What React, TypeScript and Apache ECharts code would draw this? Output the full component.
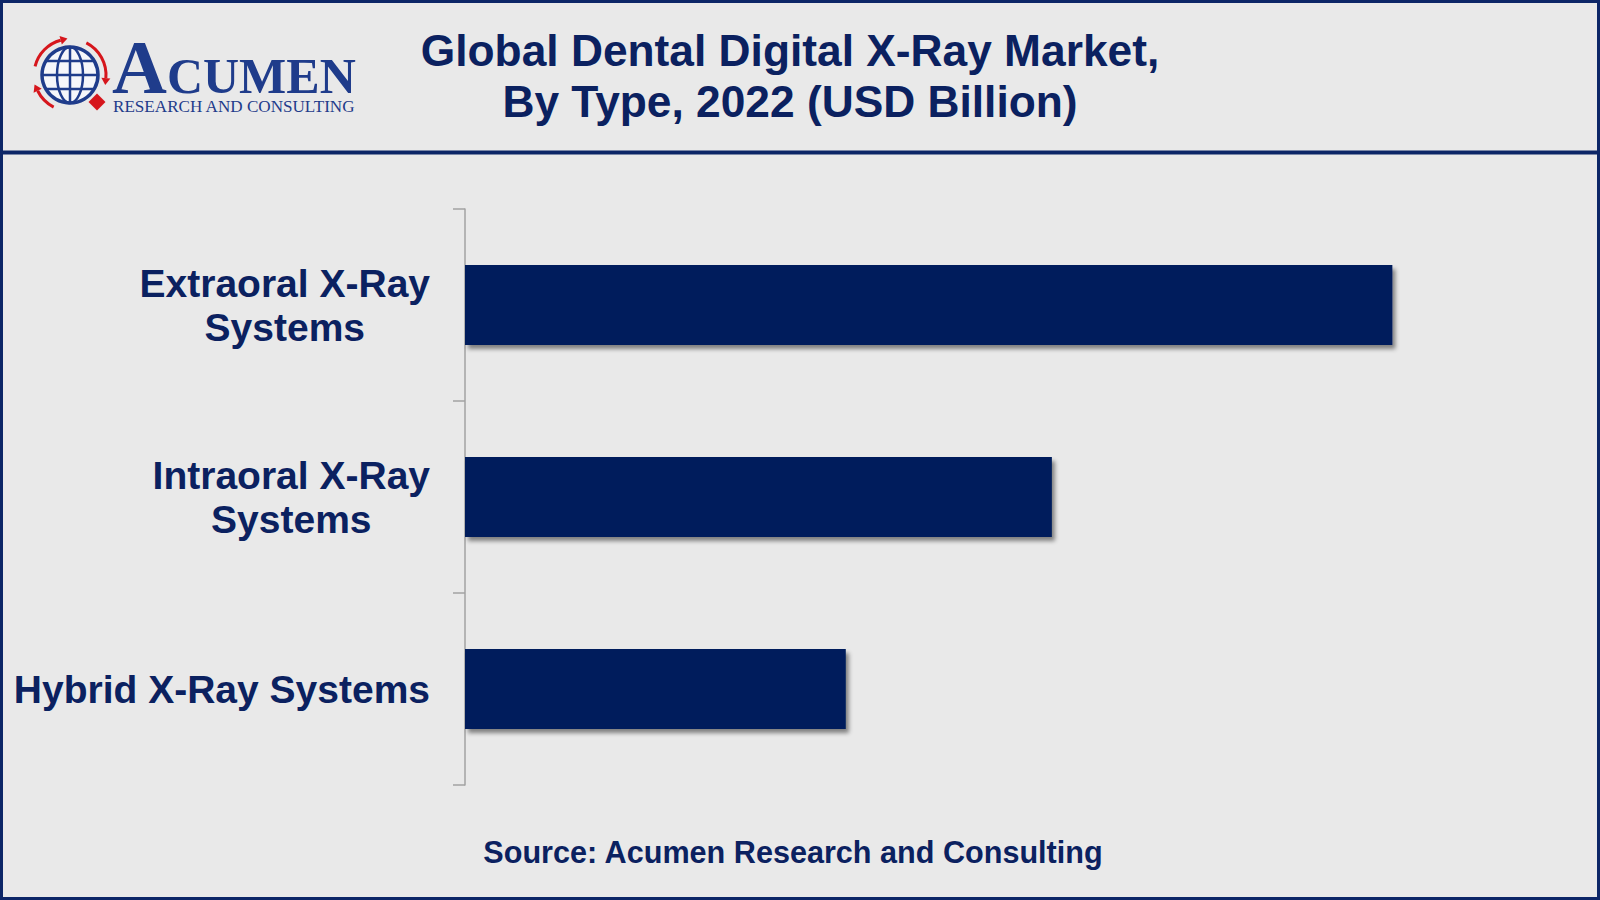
import React, { useEffect, useRef } from "react";
import * as echarts from "echarts";

const categories = ["Extraoral X-Ray\nSystems", "Intraoral X-Ray\nSystems", "Hybrid X-Ray Systems"];
const values = [2.07, 1.31, 0.85];
const valueMax = 2.5;

const titleText = "Global Dental Digital X-Ray Market,\nBy Type, 2022 (USD Billion)";
const sourceText = "Source: Acumen Research and Consulting";

const NAVY = "#0b2160";
const BAR = "#011f5b";
const FRAME = "#0c2667";
const LOGO_BLUE = "#1f3c8b";
const LOGO_RED = "#d6161c";
const SANS = '"Liberation Sans", Arial, Helvetica, sans-serif';
const SERIF = '"Liberation Serif", "Times New Roman", serif';

function arrowHead(cx: number, cy: number, r: number, deg: number) {
  const t = (deg * Math.PI) / 180;
  const px = cx + r * Math.cos(t);
  const py = cy + r * Math.sin(t);
  const tx = -Math.sin(t), ty = Math.cos(t);
  const nx = Math.cos(t), ny = Math.sin(t);
  return [
    [px + tx * 7, py + ty * 7],
    [px + nx * 4.5, py + ny * 4.5],
    [px - nx * 4.5, py - ny * 4.5],
  ];
}

function logoElements() {
  const cx = 70, cy = 75, R = 36;
  const arcs = [
    [194, 255],
    [297, 365],
    [117, 154],
  ];
  const els: any[] = [];
  els.push({
    type: "circle",
    shape: { cx, cy, r: 28 },
    style: { fill: "#f5f6fa", stroke: LOGO_BLUE, lineWidth: 3.5 },
  });
  els.push({ type: "ellipse", shape: { cx, cy, rx: 13, ry: 28 }, style: { fill: "none", stroke: LOGO_BLUE, lineWidth: 2.5 } });
  els.push({ type: "line", shape: { x1: cx, y1: cy - 28, x2: cx, y2: cy + 28 }, style: { stroke: LOGO_BLUE, lineWidth: 2.5 } });
  els.push({ type: "line", shape: { x1: cx - 28, y1: cy, x2: cx + 28, y2: cy }, style: { stroke: LOGO_BLUE, lineWidth: 2.5 } });
  els.push({ type: "line", shape: { x1: cx - 24, y1: cy - 14, x2: cx + 24, y2: cy - 14 }, style: { stroke: LOGO_BLUE, lineWidth: 2.5 } });
  els.push({ type: "line", shape: { x1: cx - 24, y1: cy + 14, x2: cx + 24, y2: cy + 14 }, style: { stroke: LOGO_BLUE, lineWidth: 2.5 } });
  arcs.forEach(([a, b]) => {
    els.push({
      type: "arc",
      shape: { cx, cy, r: R, startAngle: (a * Math.PI) / 180, endAngle: (b * Math.PI) / 180, clockwise: true },
      style: { fill: "none", stroke: LOGO_RED, lineWidth: 3 },
    });
    els.push({ type: "polygon", shape: { points: arrowHead(cx, cy, R, b) }, style: { fill: LOGO_RED } });
  });
  els.push({
    type: "rect",
    x: 97,
    y: 102,
    rotation: Math.PI / 4,
    shape: { x: -6, y: -6, width: 12, height: 12 },
    style: { fill: LOGO_RED },
  });
  els.push({
    type: "text",
    x: 112,
    y: 41.4,
    style: {
      text: "{a|A}{b|CUMEN}\n{r|RESEARCH AND CONSULTING}",
      align: "left",
      verticalAlign: "top",
      fill: LOGO_BLUE,
      rich: {
        a: { fontFamily: SERIF, fontWeight: "bold", fontSize: 76, fill: LOGO_BLUE, height: 51.6, lineHeight: 51.6, verticalAlign: "bottom" },
        b: { fontFamily: SERIF, fontWeight: "bold", fontSize: 50, fill: LOGO_BLUE, height: 34, lineHeight: 34, verticalAlign: "bottom" },
        r: { fontFamily: SERIF, fontSize: 17.1, fill: LOGO_BLUE, height: 28, lineHeight: 28, padding: [0, 0, 0, 1] },
      },
    },
  });
  return els;
}

export default function App() {
  const ref = useRef<HTMLDivElement>(null);
  useEffect(() => {
    if (!ref.current) return;
    const chart = echarts.init(ref.current, null, { renderer: "svg" });
    const labelRich = {
      c: { align: "center", fontFamily: SANS, fontSize: 39, fontWeight: "bold", color: NAVY, lineHeight: 44 },
    };
    chart.setOption({
      animation: false,
      backgroundColor: "#e9e9e9",
      title: [
        {
          text: titleText,
          left: 790,
          top: 24.5,
          padding: 0,
          textAlign: "center",
          textStyle: { fontFamily: SANS, fontSize: 44.3, fontWeight: "bold", color: NAVY, lineHeight: 51 },
        },
        {
          text: sourceText,
          left: 793,
          top: 837,
          padding: 0,
          textAlign: "center",
          textStyle: { fontFamily: SANS, fontSize: 30.6, fontWeight: "bold", color: NAVY, lineHeight: 30 },
        },
      ],
      grid: { left: 465, right: 15, top: 209, bottom: 115, containLabel: false },
      xAxis: { type: "value", min: 0, max: valueMax, show: false },
      yAxis: {
        type: "category",
        data: categories,
        inverse: true,
        axisLine: { show: true, lineStyle: { color: "#a2a2a2", width: 1.5 } },
        axisTick: { show: true, length: 12, lineStyle: { color: "#a2a2a2", width: 1.5 } },
        splitLine: { show: false },
        axisLabel: {
          margin: 35,
          formatter: (v: string) => v.split("\n").map((l) => `{c|${l}}`).join("\n"),
          rich: labelRich,
        },
      },
      series: [
        {
          type: "bar",
          data: values,
          barWidth: 80,
          itemStyle: {
            color: BAR,
            shadowColor: "rgba(0,0,0,0.45)",
            shadowBlur: 4,
            shadowOffsetX: 3,
            shadowOffsetY: 4,
          },
        },
      ],
      graphic: [
        {
          type: "rect",
          shape: { x: 1.5, y: 1.5, width: 1597, height: 897 },
          style: { fill: "none", stroke: FRAME, lineWidth: 3 },
          z: 100,
        },
        {
          type: "line",
          shape: { x1: 0, y1: 152.5, x2: 1600, y2: 152.5 },
          style: { stroke: FRAME, lineWidth: 4 },
          z: 100,
        },
        ...logoElements(),
      ],
    });
    return () => chart.dispose();
  }, []);
  return (
    <div
      ref={ref}
      style={{ position: "fixed", left: 0, top: 0, width: 1600, height: 900 }}
    />
  );
}
